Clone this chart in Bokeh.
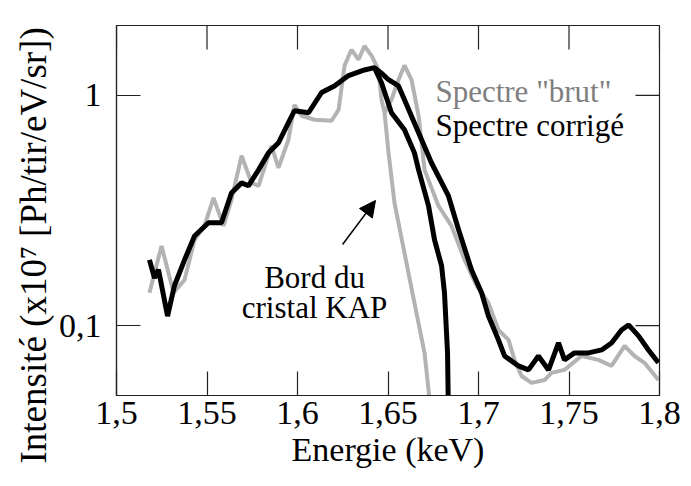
from math import pi
from bokeh.plotting import figure
from bokeh.models import FixedTicker, Range1d, Arrow, NormalHead, Label, Title
from bokeh.embed import file_html
from bokeh.resources import INLINE

# ---- data ----
corr_x = [1.5182, 1.5210, 1.5232, 1.5282, 1.5320, 1.5376, 1.5431, 1.5508, 1.5580, 1.5635,
          1.5691, 1.5729, 1.5785, 1.5840, 1.5895, 1.5950, 1.5983, 1.6061, 1.6133, 1.6204,
          1.6282, 1.6370, 1.6425, 1.6464, 1.6503, 1.6558, 1.6591, 1.6669, 1.6740, 1.6834,
          1.6890, 1.6961, 1.7017, 1.7055, 1.7110, 1.7144, 1.7221, 1.7276, 1.7331, 1.7387,
          1.7442, 1.7475, 1.7530, 1.7608, 1.7680, 1.7735, 1.7790, 1.7829, 1.7884, 1.7939, 1.7994]
corr_y = [0.193, 0.161, 0.175, 0.110, 0.149, 0.193, 0.245, 0.280, 0.280, 0.377,
          0.417, 0.405, 0.475, 0.563, 0.623, 0.761, 0.858, 0.841, 1.03, 1.10,
          1.22, 1.29, 1.32, 1.25, 1.17, 1.10, 0.958, 0.689, 0.510, 0.366,
          0.261, 0.175, 0.139, 0.110, 0.0867, 0.0738, 0.0668, 0.0642, 0.0738, 0.0642,
          0.0841, 0.0710, 0.0761, 0.0761, 0.0784, 0.0841, 0.0957, 0.1007, 0.0902, 0.0784, 0.0689]

corr_edge_x = [1.6425, 1.6464, 1.6519, 1.6591, 1.6646, 1.6669, 1.6724, 1.6757, 1.6796, 1.6812, 1.6829, 1.6834]
corr_edge_y = [1.32, 1.135, 0.841, 0.71, 0.563, 0.475, 0.331, 0.236, 0.182, 0.139, 0.076, 0.040]

brut_x = [1.5182, 1.5249, 1.5315, 1.5376, 1.5431, 1.5486, 1.5536, 1.5591, 1.5635, 1.5691,
          1.5746, 1.5785, 1.5856, 1.5895, 1.5950, 1.5983, 1.6022, 1.6094, 1.6188, 1.6227,
          1.6260, 1.6298, 1.6337, 1.6370, 1.6409, 1.6448, 1.6464, 1.6481, 1.6519, 1.6558,
          1.6591, 1.6630, 1.6669, 1.6702, 1.6779, 1.6851, 1.6923, 1.6990, 1.7055, 1.7110,
          1.7166, 1.7199, 1.7238, 1.7293, 1.7365, 1.7403, 1.7475, 1.7569, 1.7663, 1.7735,
          1.7807, 1.7862, 1.7917, 1.7994]
brut_y = [0.139, 0.222, 0.139, 0.158, 0.236, 0.271, 0.359, 0.271, 0.352, 0.547,
          0.417, 0.405, 0.604, 0.485, 0.642, 0.911, 0.816, 0.784, 0.776, 0.867,
          1.35, 1.58, 1.43, 1.64, 1.49, 1.29, 0.958, 0.841, 0.958, 1.17,
          1.35, 1.17, 0.816, 0.475, 0.331, 0.271, 0.193, 0.149, 0.1255, 0.0957,
          0.0867, 0.071, 0.0604, 0.0564, 0.058, 0.0623, 0.0642, 0.0738, 0.071, 0.0668,
          0.0817, 0.0738, 0.0689, 0.058]

brut_edge_x = [1.6481, 1.6503, 1.6536, 1.6591, 1.6646, 1.6702, 1.6740]
brut_edge_y = [0.841, 0.563, 0.341, 0.207, 0.1255, 0.076, 0.040]

x_ticks = [1.5, 1.55, 1.6, 1.65, 1.7, 1.75, 1.8]
x_tick_labels = ["1,5", "1,55", "1,6", "1,65", "1,7", "1,75", "1,8"]
y_ticks = [0.1, 1]
y_tick_labels = ["0,1", "1"]

FONT = "Liberation Serif"
GRAY = "#b3b3b3"
AXC = "#222222"

W, H = 683, 470
xr = Range1d(1.5, 1.8)
yr = Range1d(0.0497, 2.013)
p = figure(width=W, height=H, x_range=xr, y_range=yr,
           y_axis_type="log", output_backend="svg", toolbar_location=None,
           min_border_left=116, min_border_right=24, min_border_top=25, min_border_bottom=75)
p.background_fill_color = "white"
p.border_fill_color = "white"
p.grid.visible = False
p.outline_line_color = AXC
p.outline_line_width = 1.2

def style_axis(ax):
    ax.major_tick_in = 24
    ax.major_tick_out = 0
    ax.minor_tick_line_color = None
    ax.major_tick_line_color = AXC
    ax.major_tick_line_width = 1.2
    ax.axis_line_color = AXC
    ax.axis_line_width = 1.2
    ax.major_label_text_font = FONT
    ax.major_label_text_font_size = "34px"
    ax.major_label_text_color = "black"
    ax.axis_label_text_font = FONT
    ax.axis_label_text_font_size = "34px"
    ax.axis_label_text_font_style = "normal"
    ax.axis_label_text_color = "black"

xa = p.xaxis[0]
xa.ticker = FixedTicker(ticks=x_ticks)
xa.major_label_overrides = {t: l for t, l in zip(x_ticks, x_tick_labels)}
xa.axis_label = "Energie (keV)"
xa.major_label_standoff = 6
xa.axis_label_standoff = 4
style_axis(xa)

ya = p.yaxis[0]
ya.ticker = FixedTicker(ticks=y_ticks)
ya.major_label_overrides = {t: l for t, l in zip(y_ticks, y_tick_labels)}
ya.major_label_standoff = 15
style_axis(ya)

# y title as a side title: starts near the bottom of the plot as in the reference
p.add_layout(Title(text="Intensité (x10⁷ [Ph/tir/eV/sr])", text_font=FONT, text_font_size="37px",
                   text_font_style="normal", text_color="black", align="left", offset=-68,
                   standoff=4), "left")

# inward ticks on the top and right edges of the frame
p.ray(x=x_ticks, y=[yr.end] * len(x_ticks), length=24, angle=-pi / 2,
      length_units="screen", line_color=AXC, line_width=1.2)
p.ray(x=[xr.end] * len(y_ticks), y=y_ticks, length=24, angle=pi,
      length_units="screen", line_color=AXC, line_width=1.2)

# ---- lines ----
p.line(brut_x, brut_y, line_color=GRAY, line_width=4)
p.line(brut_edge_x, brut_edge_y, line_color=GRAY, line_width=4)
p.line(corr_x, corr_y, line_color="black", line_width=5)
p.line(corr_edge_x, corr_edge_y, line_color="black", line_width=5)

# ---- annotations ----
def txt(x, y, s, color="black", align="left"):
    p.add_layout(Label(x=x, y=y, text=s, text_font=FONT, text_font_size="31px",
                       text_color=color, text_align=align, text_baseline="alphabetic"))

txt(1.6762, 1.04, 'Spectre "brut"', color="#7f7f7f")
txt(1.6762, 0.74, "Spectre corrigé")
txt(1.6094, 0.162, "Bord du", align="center")
txt(1.6094, 0.1197, "cristal KAP", align="center")
p.add_layout(Arrow(end=NormalHead(size=16, fill_color="black", line_color="black"),
                   x_start=1.6249, y_start=0.225, x_end=1.6431, y_end=0.3497,
                   line_color="black", line_width=1.5))

open("out.html", "w").write(file_html(p, INLINE))
